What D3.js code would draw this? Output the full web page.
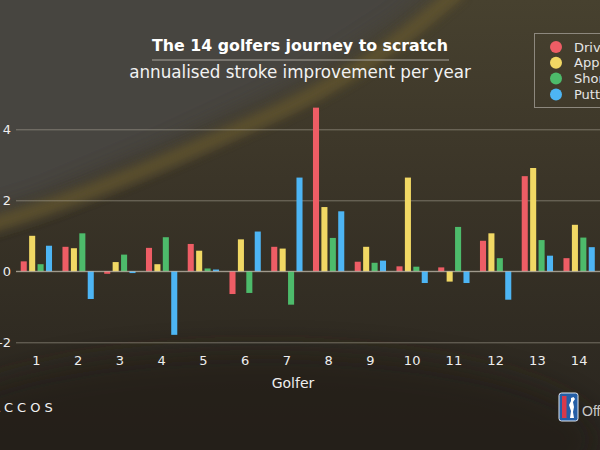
<!DOCTYPE html>
<html>
<head>
<meta charset="utf-8">
<script src="https://cdn.jsdelivr.net/npm/d3@7"></script>
<style>
  html, body { margin: 0; padding: 0; background: #2d2923; }
  svg { display: block; }
</style>
</head>
<body>
<div id="chart"></div>
<script>
// DATA
const golfers = ["1", "2", "3", "4", "5", "6", "7", "8", "9", "10", "11", "12", "13", "14"];
const categories = ["Driving", "Approach", "Short Game", "Putting"];
const driving   = [0.28, 0.69, -0.07, 0.66, 0.77, -0.64, 0.69, 4.61, 0.27, 0.14, 0.11, 0.86, 2.68, 0.37];
const approach  = [1.00, 0.65, 0.26, 0.20, 0.58, 0.90, 0.64, 1.81, 0.69, 2.64, -0.29, 1.07, 2.91, 1.31];
const shortGame = [0.20, 1.07, 0.47, 0.96, 0.08, -0.61, -0.94, 0.94, 0.24, 0.13, 1.25, 0.37, 0.88, 0.95];
const putting   = [0.72, -0.78, -0.05, -1.79, 0.05, 1.12, 2.64, 1.69, 0.30, -0.33, -0.33, -0.80, 0.44, 0.68];
const yTicks = [-2, 0, 2, 4];

const W = 600, H = 450;
const colors = ["#ee5d65", "#f1d864", "#4dbb6b", "#4db5f4"];
const font = "'DejaVu Sans', sans-serif";

const series = [driving, approach, shortGame, putting];
const rows = golfers.map((g, i) => ({
    golfer: g,
    values: categories.map((c, k) => ({ key: c, value: series[k][i] }))
}));

const svg = d3.select("#chart").append("svg")
    .attr("width", W)
    .attr("height", H)
    .attr("viewBox", `0 0 ${W} ${H}`);

// Background (stand-in for the aerial photo)
const defs = svg.append("defs");
const bg = defs.append("linearGradient").attr("id", "bg").attr("x1", 0).attr("y1", 0).attr("x2", 0).attr("y2", 1);
bg.append("stop").attr("offset", "0%").attr("stop-color", "#47412f");
bg.append("stop").attr("offset", "40%").attr("stop-color", "#3b3528");
bg.append("stop").attr("offset", "100%").attr("stop-color", "#28241e");
defs.append("filter").attr("id", "blur").attr("x", "-20%").attr("y", "-20%").attr("width", "140%").attr("height", "140%")
    .append("feGaussianBlur").attr("stdDeviation", 14);
defs.append("filter").attr("id", "blur2").attr("x", "-20%").attr("y", "-20%").attr("width", "140%").attr("height", "140%")
    .append("feGaussianBlur").attr("stdDeviation", 5);

svg.append("rect").attr("width", W).attr("height", H).attr("fill", "url(#bg)");
// grey upper-left area
svg.append("path")
    .attr("d", "M-40,-40 L470,-40 L400,20 L300,85 L160,150 L40,200 L-40,225 Z")
    .attr("fill", "#464441")
    .attr("filter", "url(#blur)");
// olive ridge along the edge of the grey area
svg.append("path")
    .attr("d", "M-20,228 C80,200 170,160 260,120 S390,50 460,-10")
    .attr("fill", "none")
    .attr("stroke", "#66592f")
    .attr("stroke-width", 16)
    .attr("opacity", 0.7)
    .attr("filter", "url(#blur2)");
// darker lower area
svg.append("ellipse")
    .attr("cx", 260).attr("cy", 440).attr("rx", 340).attr("ry", 90)
    .attr("fill", "#201d18")
    .attr("opacity", 0.6)
    .attr("filter", "url(#blur)");

// SCALES
const x0 = d3.scaleBand()
    .domain(golfers)
    .range([15.5, 600])
    .paddingInner(0.25)
    .paddingOuter(0.125);

const x1 = d3.scaleBand()
    .domain(categories)
    .range([0, x0.bandwidth()])
    .paddingInner(0.28);

const y = d3.scaleLinear()
    .domain([-2, 4])
    .range([342.3, 129.3]);

const color = d3.scaleOrdinal().domain(categories).range(colors);

// Grid + y axis
const yAxis = svg.append("g")
    .attr("transform", "translate(16,0)")
    .call(d3.axisLeft(y).tickValues(yTicks).tickSize(-(W - 16)).tickPadding(5).tickFormat(d => String(d)));
yAxis.select(".domain").remove();
yAxis.selectAll(".tick line")
    .attr("stroke", "#b9b3a6")
    .attr("stroke-opacity", 0.5)
    .attr("stroke-width", 1);
yAxis.selectAll(".tick text")
    .attr("fill", "#eeeeee")
    .style("font-family", font)
    .style("font-size", "13px");

// Bars
const groups = svg.append("g").selectAll("g")
    .data(rows)
    .join("g")
    .attr("transform", d => `translate(${x0(d.golfer)},0)`);

groups.selectAll("rect")
    .data(d => d.values)
    .join("rect")
    .attr("x", d => x1(d.key))
    .attr("width", x1.bandwidth())
    .attr("y", d => y(Math.max(0, d.value)))
    .attr("height", d => Math.abs(y(d.value) - y(0)))
    .attr("fill", d => color(d.key));

// zero line on top of bars
svg.append("line")
    .attr("x1", 16).attr("x2", W)
    .attr("y1", y(0)).attr("y2", y(0))
    .attr("stroke", "#cfc9bc")
    .attr("stroke-opacity", 0.7)
    .attr("stroke-width", 1);

// X axis
const xAxis = svg.append("g")
    .attr("transform", `translate(0,${y(-2)})`)
    .call(d3.axisBottom(x0).tickSize(0).tickPadding(13));
xAxis.select(".domain").remove();
xAxis.selectAll("text")
    .attr("fill", "#eeeeee")
    .style("font-family", font)
    .style("font-size", "13px");

svg.append("text")
    .attr("x", 293)
    .attr("y", 388)
    .attr("text-anchor", "middle")
    .attr("fill", "#eeeeee")
    .style("font-family", font)
    .style("font-size", "14px")
    .text("Golfer");

// fit a text element to a target width by adjusting font size
function fitWidth(sel, target) {
    const w = sel.node().getComputedTextLength();
    const fs = parseFloat(sel.style("font-size"));
    sel.style("font-size", (fs * target / w).toFixed(2) + "px");
}

// Title
const title = svg.append("text")
    .attr("x", 300)
    .attr("y", 51)
    .attr("text-anchor", "middle")
    .attr("fill", "#ffffff")
    .style("font-family", font)
    .style("font-weight", "bold")
    .style("font-size", "17px")
    .text("The 14 golfers journey to scratch");
fitWidth(title, 296);

svg.append("line")
    .attr("x1", 152).attr("x2", 449)
    .attr("y1", 60).attr("y2", 60)
    .attr("stroke", "#a8a49c")
    .attr("stroke-width", 1);

const subtitle = svg.append("text")
    .attr("x", 300)
    .attr("y", 78)
    .attr("text-anchor", "middle")
    .attr("fill", "#f2f2f2")
    .style("font-family", font)
    .style("font-size", "17px")
    .text("annualised stroke improvement per year");
fitWidth(subtitle, 342);

// Legend
const legend = svg.append("g");
legend.append("rect")
    .attr("x", 534.5).attr("y", 33.5)
    .attr("width", 80).attr("height", 74)
    .attr("fill", "none")
    .attr("stroke", "#8d887e")
    .attr("stroke-width", 1);
const legendItems = legend.selectAll(".item")
    .data(categories)
    .join("g")
    .attr("class", "item")
    .attr("transform", (d, i) => `translate(556,${47 + i * 15.8})`);
legendItems.append("circle")
    .attr("r", 6)
    .attr("fill", d => color(d));
legendItems.append("text")
    .attr("x", 18)
    .attr("dy", "0.35em")
    .attr("fill", "#e6e6e6")
    .style("font-family", font)
    .style("font-size", "13px")
    .text(d => d);

// Logos (bottom)
const arccos = svg.append("text")
    .attr("y", 412)
    .attr("fill", "#f2f2f2")
    .style("font-family", font)
    .style("font-size", "13px")
    .style("letter-spacing", "4px")
    .text("ARCCOS");
const arWidth = arccos.node().getSubStringLength(0, 2);
arccos.attr("x", 4 - arWidth);

const pga = svg.append("g").attr("transform", "translate(559,393)");
pga.append("rect")
    .attr("width", 19).attr("height", 28).attr("rx", 2.5)
    .attr("fill", "#245ea6")
    .attr("stroke", "#dfe6f0")
    .attr("stroke-width", 1);
pga.append("rect")
    .attr("x", 3).attr("y", 3).attr("width", 4.5).attr("height", 22)
    .attr("fill", "#d8394a");
pga.append("path")
    .attr("d", "M12,5 L14.5,4 L16,6 L14,9 L15,14 L14,19 L15,25 L11,25 L12,18 L10,12 L12,8 Z")
    .attr("fill", "#ffffff");

svg.append("text")
    .attr("x", 582)
    .attr("y", 416)
    .attr("fill", "#c9c9c9")
    .style("font-family", "'Liberation Sans Narrow', 'Liberation Sans', sans-serif")
    .style("font-size", "14px")
    .text("Official Data Partner");
</script>
</body>
</html>
